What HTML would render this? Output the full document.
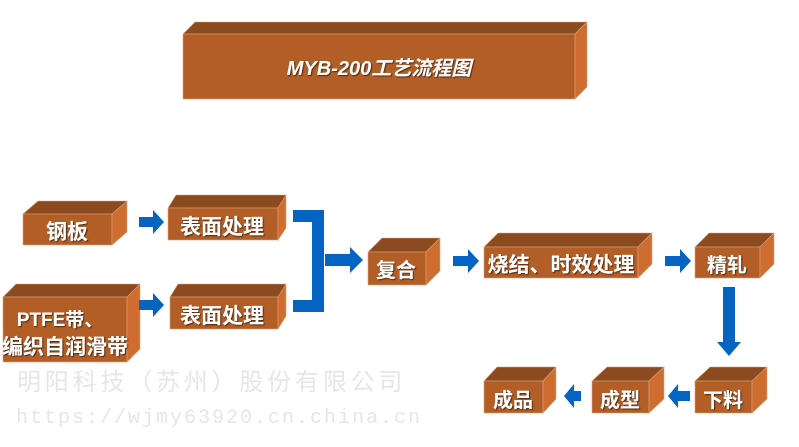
<!DOCTYPE html>
<html><head><meta charset="utf-8"><style>
html,body{margin:0;padding:0;background:#fff;}
svg{display:block;}
.t{font-family:"Liberation Sans","Noto Sans CJK SC",sans-serif;font-weight:bold;fill:#fff;}
</style></head><body>
<svg width="799" height="447" viewBox="0 0 799 447">
<defs><filter id="sh"><feDropShadow dx="1" dy="1" stdDeviation="0.5" flood-color="#000" flood-opacity="0.6"/></filter></defs>
<g stroke="#d9a27a" stroke-width="0.6">
<polygon points="183,34 575,34 587,22 195,22" fill="#8b4a1f"/><rect x="183" y="34" width="392" height="65" fill="#b35e27"/><polygon points="575,34 587,22 587,87 575,99" fill="#cf6d30"/>
<polygon points="23,214 112,214 127,201 38,201" fill="#8b4a1f"/><rect x="23" y="214" width="89" height="31" fill="#b35e27"/><polygon points="112,214 127,201 127,232 112,245" fill="#cf6d30"/>
<polygon points="168,208 278,208 286,195 176,195" fill="#8b4a1f"/><rect x="168" y="208" width="110" height="32" fill="#b35e27"/><polygon points="278,208 286,195 286,228 278,240" fill="#cf6d30"/>
<polygon points="3,297 127,297 140,284 16,284" fill="#8b4a1f"/><rect x="3" y="297" width="124" height="65" fill="#b35e27"/><polygon points="127,297 140,284 140,349 127,362" fill="#cf6d30"/>
<polygon points="170,297 278,297 286,284 178,284" fill="#8b4a1f"/><rect x="170" y="297" width="108" height="32" fill="#b35e27"/><polygon points="278,297 286,284 286,316 278,329" fill="#cf6d30"/>
<polygon points="368,252 426,252 440,238 382,238" fill="#8b4a1f"/><rect x="368" y="252" width="58" height="33" fill="#b35e27"/><polygon points="426,252 440,238 440,271 426,285" fill="#cf6d30"/>
<polygon points="484,247 638,247 652,233 498,233" fill="#8b4a1f"/><rect x="484" y="247" width="154" height="31" fill="#b35e27"/><polygon points="638,247 652,233 652,264 638,278" fill="#cf6d30"/>
<polygon points="695,247 760,247 774,233 709,233" fill="#8b4a1f"/><rect x="695" y="247" width="65" height="31" fill="#b35e27"/><polygon points="760,247 774,233 774,264 760,278" fill="#cf6d30"/>
<polygon points="695,381 752,381 767,367 710,367" fill="#8b4a1f"/><rect x="695" y="381" width="57" height="32" fill="#b35e27"/><polygon points="752,381 767,367 767,399 752,413" fill="#cf6d30"/>
<polygon points="592,381 649,381 664,367 607,367" fill="#8b4a1f"/><rect x="592" y="381" width="57" height="32" fill="#b35e27"/><polygon points="649,381 664,367 664,399 649,413" fill="#cf6d30"/>
<polygon points="484,381 543,381 556,367 497,367" fill="#8b4a1f"/><rect x="484" y="381" width="59" height="32" fill="#b35e27"/><polygon points="543,381 556,367 556,399 543,413" fill="#cf6d30"/>
</g>
<g fill="#0563c1">
<polygon points="139,217 153,217 153,210 164,222 153,234 153,227 139,227"/>
<polygon points="139,300 153,300 153,293 164,305 153,317 153,310 139,310"/>
<rect x="293" y="210" width="19" height="12"/><rect x="293" y="300" width="19" height="12"/>
<rect x="312" y="210" width="12" height="102"/>
<polygon points="325,254 350,254 350,247 363,260 350,273 350,266 325,266"/>
<polygon points="453,256 468,256 468,249 479,261 468,273 468,266 453,266"/>
<polygon points="665,256 680,256 680,249 691,261 680,273 680,266 665,266"/>
<polygon points="723,287 735,287 735,342 741,342 729,356 717,342 723,342"/>
<polygon points="690,391 678,391 678,384 668,396 678,408 678,401 690,401"/>
<polygon points="581,391 574,391 574,384 564,396 574,408 574,401 581,401"/>
</g>
<g class="t" filter="url(#sh)">
<text x="379" y="75" font-size="20" text-anchor="middle" font-style="italic">MYB-200工艺流程图</text>
<text x="67" y="239" font-size="21" text-anchor="middle">钢板</text>
<text x="222" y="234" font-size="21" text-anchor="middle">表面处理</text>
<text x="60" y="326" font-size="19" text-anchor="middle">PTFE带、</text>
<text x="65" y="354" font-size="21" text-anchor="middle">编织自润滑带</text>
<text x="222" y="323" font-size="21" text-anchor="middle">表面处理</text>
<text x="396" y="277" font-size="20" text-anchor="middle">复合</text>
<text x="561" y="272" font-size="21" text-anchor="middle">烧结、时效处理</text>
<text x="727" y="272" font-size="20" text-anchor="middle">精轧</text>
<text x="723" y="407" font-size="20" text-anchor="middle">下料</text>
<text x="620" y="407" font-size="20" text-anchor="middle">成型</text>
<text x="513" y="407" font-size="20" text-anchor="middle">成品</text>
</g>
<text x="17" y="390" font-size="24" letter-spacing="3.8" fill="#e6e6e6" font-family="'Noto Sans CJK SC',sans-serif">明阳科技（苏州）股份有限公司</text>
<text x="16" y="423" font-size="20" letter-spacing="2" fill="#e6e6e6" font-family="'Liberation Mono',monospace">https://wjmy63920.cn.china.cn</text>
</svg>
</body></html>
